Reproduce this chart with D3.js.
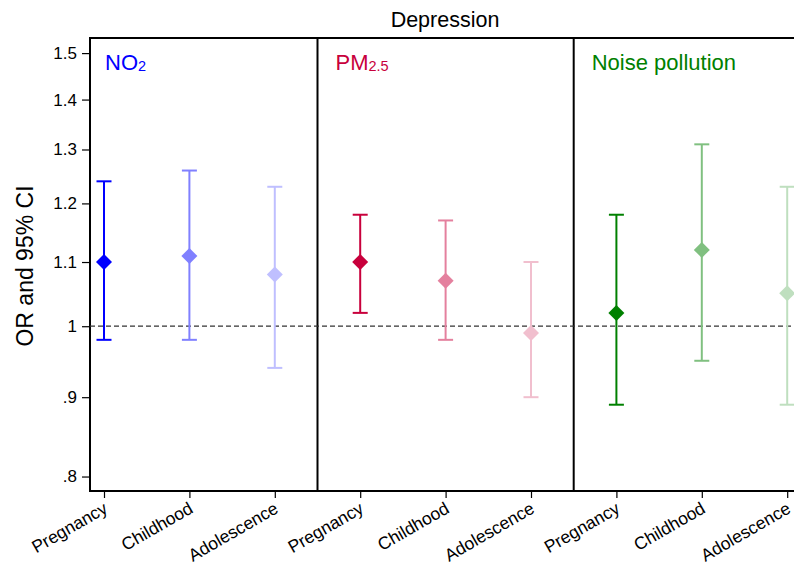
<!DOCTYPE html>
<html>
<head>
<meta charset="utf-8">
<script src="https://cdn.jsdelivr.net/npm/d3@7"></script>
<style>
  body { margin: 0; background: #fff; }
  text { font-family: "Liberation Sans", Arial, sans-serif; }
</style>
</head>
<body>
<div id="vis"></div>
<script>
/*************************** data ************************************/
var periods = ["Pregnancy", "Childhood", "Adolescence"];
var exposures = ["NO2", "PM2.5", "Noise pollution"];
var exposure_colors = ["#0000ff", "#c8003c", "#008000"];
var period_opacity = [1, 0.5, 0.25];

// OR with lower / upper 95% CI, one row per exposure, in period order
var or_est = [[1.10, 1.11, 1.08], [1.10, 1.07, 0.99], [1.02, 1.12, 1.05]];
var ci_low = [[0.98, 0.98, 0.94], [1.02, 0.98, 0.90], [0.89, 0.95, 0.89]];
var ci_high = [[1.24, 1.26, 1.23], [1.18, 1.17, 1.10], [1.18, 1.31, 1.23]];
var y_ticks = [0.8, 0.9, 1, 1.1, 1.2, 1.3, 1.4, 1.5];

/*************************** layout ************************************/
var W = 794, H = 564;
var m_left = 90, m_top = 38, m_bottom = 491;
var step = 85.4, pad = 14; // spacing between estimates, margin inside frame

var svg = d3.select("div#vis").append("svg")
    .attr("width", W)
    .attr("height", H);

var rows = [];
exposures.forEach(function(e, i) {
    periods.forEach(function(p, j) {
        rows.push({ exp: i, per: j, label: p, idx: i * 3 + j,
                    or: or_est[i][j], lo: ci_low[i][j], hi: ci_high[i][j] });
    });
});

var x = d3.scaleLinear()
    .domain([-pad / step, rows.length - 1 + pad / step])
    .range([m_left, m_left + (rows.length - 1) * step + 2 * pad]);

var y = d3.scaleLog()
    .domain([0.783, 1.534])
    .range([m_bottom, m_top]);

function color(d) {
    return d3.interpolateRgb("#ffffff", exposure_colors[d.exp])(period_opacity[d.per]);
}

/*************************** axes ************************************/
var yAxis = d3.axisLeft(y)
    .tickValues(y_ticks)
    .tickSize(8)
    .tickFormat(function(v) {
        var s = d3.format("~g")(v);
        return s.replace(/^0\./, ".");
    });

var gy = svg.append("g")
    .attr("transform", "translate(" + m_left + ",0)")
    .call(yAxis);
gy.select(".domain").remove();
gy.selectAll("line").attr("stroke", "#000").attr("stroke-width", 1.2);
gy.selectAll("text").attr("font-size", 17).attr("fill", "#000").attr("x", -13);

var xAxis = d3.axisBottom(x)
    .tickValues(rows.map(function(d) { return d.idx; }))
    .tickSize(7)
    .tickFormat(function(i) { return rows[i].label; });

var gx = svg.append("g")
    .attr("transform", "translate(0," + m_bottom + ")")
    .call(xAxis);
gx.select(".domain").remove();
gx.selectAll("line").attr("stroke", "#000").attr("stroke-width", 1.2);
gx.selectAll("text")
    .attr("font-size", 17.5)
    .attr("fill", "#000")
    .attr("text-anchor", "end")
    .attr("y", 0).attr("x", 0)
    .attr("dy", "0.71em")
    .attr("transform", "translate(-2,10) rotate(-30)");

// frame: top, left, bottom (right side runs off the page)
var xr = x.range();
svg.append("path")
    .attr("d", "M" + xr[1] + "," + m_top + "H" + m_left + "V" + m_bottom + "H" + xr[1])
    .attr("fill", "none")
    .attr("stroke", "#000")
    .attr("stroke-width", 2);

// panel dividers
var dividers = [2.5, 5.5];
dividers.forEach(function(v) {
    svg.append("line")
        .attr("x1", x(v)).attr("x2", x(v))
        .attr("y1", m_top).attr("y2", m_bottom)
        .attr("stroke", "#000")
        .attr("stroke-width", 2);
});

// reference line at OR = 1
svg.append("line")
    .attr("x1", m_left).attr("x2", xr[1])
    .attr("y1", y(1)).attr("y2", y(1))
    .attr("stroke", "#333")
    .attr("stroke-width", 1.2)
    .attr("stroke-dasharray", "5,3");

/*************************** estimates ************************************/
var cap = 7.5, dsz = 8;
var g = svg.selectAll("g.est")
    .data(rows)
  .enter().append("g")
    .attr("class", "est");

g.append("line")
    .attr("x1", function(d) { return x(d.idx); })
    .attr("x2", function(d) { return x(d.idx); })
    .attr("y1", function(d) { return y(d.lo); })
    .attr("y2", function(d) { return y(d.hi); })
    .attr("stroke", color)
    .attr("stroke-width", 2);

["lo", "hi"].forEach(function(k) {
    g.append("line")
        .attr("x1", function(d) { return x(d.idx) - cap; })
        .attr("x2", function(d) { return x(d.idx) + cap; })
        .attr("y1", function(d) { return y(d[k]); })
        .attr("y2", function(d) { return y(d[k]); })
        .attr("stroke", color)
        .attr("stroke-width", 2);
});

g.append("path")
    .attr("d", function(d) {
        var cx = x(d.idx), cy = y(d.or);
        return "M" + cx + "," + (cy - dsz) + "L" + (cx + dsz) + "," + cy +
               "L" + cx + "," + (cy + dsz) + "L" + (cx - dsz) + "," + cy + "Z";
    })
    .attr("fill", color);

/*************************** labels ************************************/
var labels = [
    { main: "NO", sub: "2" },
    { main: "PM", sub: "2.5" },
    { main: "Noise pollution", sub: "" }
];
var panel_left = [m_left, x(dividers[0]), x(dividers[1])];
labels.forEach(function(l, i) {
    var t = svg.append("text")
        .attr("x", panel_left[i] + (i === 0 ? 15 : 18))
        .attr("y", 70)
        .attr("font-size", 22)
        .attr("fill", exposure_colors[i])
        .text(l.main);
    if (l.sub)
        t.append("tspan")
            .attr("font-size", 14.5)
            .attr("dy", 1)
            .text(l.sub);
});

svg.append("text")
    .attr("x", 445)
    .attr("y", 27)
    .attr("text-anchor", "middle")
    .attr("font-size", 21.5)
    .text("Depression");

svg.append("text")
    .attr("transform", "translate(33,266) rotate(-90)")
    .attr("text-anchor", "middle")
    .attr("font-size", 23)
    .text("OR and 95% CI");
</script>
</body>
</html>
